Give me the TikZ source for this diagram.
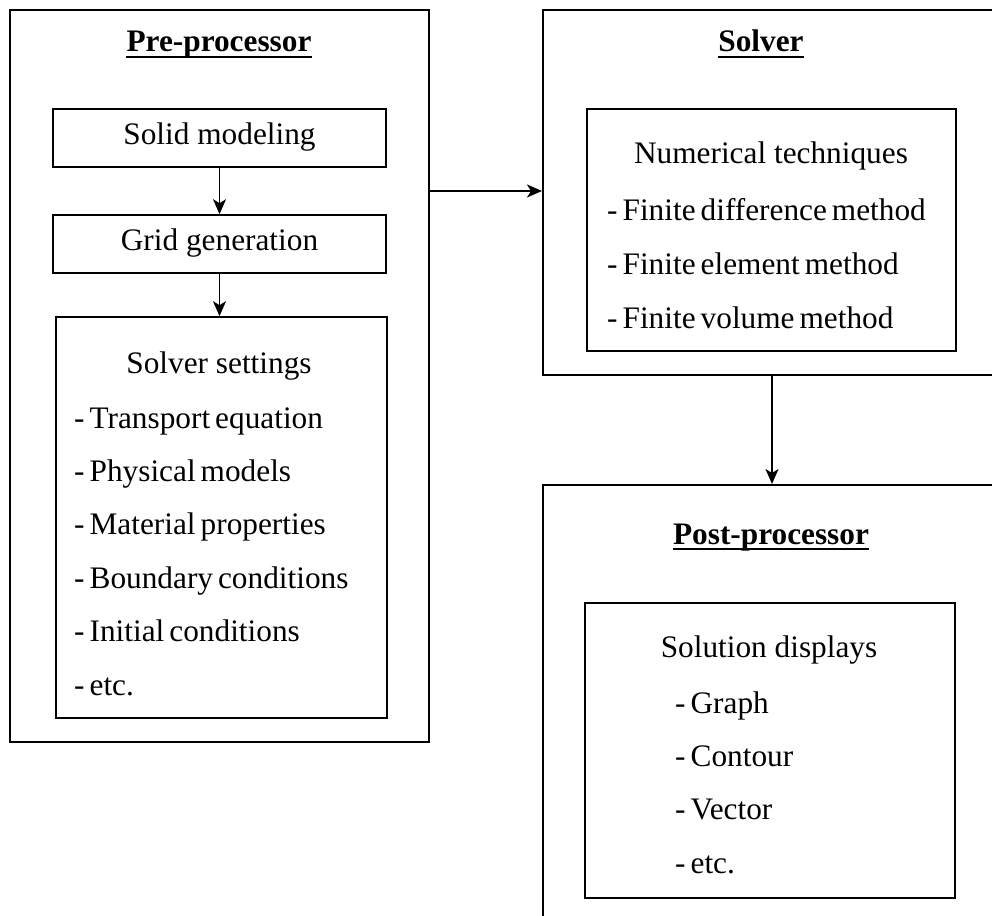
\documentclass[tikz,border=0pt]{standalone}
\usepackage{fontspec}
\setmainfont{Liberation Serif}
\usetikzlibrary{arrows.meta}
\begin{document}
\begin{tikzpicture}[x=1pt,y=-1pt,
  outer/.style={draw, line width=2pt, rectangle, inner sep=0pt},
  inner/.style={draw, line width=1.6pt, rectangle, inner sep=0pt},
  boxtxt/.style={inner, font=\fontsize{31.3}{36}\selectfont, text height=21pt, text depth=8pt},
  ttl/.style={inner sep=0pt, font=\fontsize{31.3}{36}\selectfont\bfseries, anchor=base},
  ulin/.style={line width=2pt},
  item/.style={inner sep=0pt, anchor=base west, font=\fontsize{31.3}{36}\selectfont, execute at begin node={\spaceskip=0.16em\relax}},
  head/.style={inner sep=0pt, anchor=base, font=\fontsize{31.3}{36}\selectfont},
  arr/.style={-{Stealth[length=15pt,width=13pt,inset=4pt]}, line width=1.8pt}]
\useasboundingbox (0,0) rectangle (992,915);
\clip (0,0) rectangle (992,915);

% outer boxes
\node[outer, minimum width=419pt, minimum height=732pt] (pre) at (219.5,376) {};
\node[outer, minimum width=462pt, minimum height=365pt] (solver) at (774,192.5) {};
\node[outer, minimum width=462pt, minimum height=450pt] (post) at (774,710) {};

% titles
\node[ttl] (ptitle) at (219,52) {Pre-processor};
\draw[ulin] ([yshift=-5pt]ptitle.base west) -- ([yshift=-5pt]ptitle.base east);
\node[ttl] (stitle) at (761,52) {Solver};
\draw[ulin] ([yshift=-5pt]stitle.base west) -- ([yshift=-5pt]stitle.base east);
\node[ttl] (otitle) at (771,544) {Post-processor};
\draw[ulin] ([yshift=-5pt]otitle.base west) -- ([yshift=-5pt]otitle.base east);

% pre-processor contents
\node[boxtxt, minimum width=333pt, minimum height=58pt] (solid) at (219.5,138) {Solid modeling};
\node[boxtxt, minimum width=333pt, minimum height=58pt] (grid) at (219.5,244) {Grid generation};
\node[inner, minimum width=331pt, minimum height=401pt] (settings) at (221.5,517.5) {};
\node[head] (sset) at (219,373) {Solver settings};
\node[item] (s1) at (74,428) {- Transport equation};
\node[item] (s2) at (74,481.4) {- Physical models};
\node[item] (s3) at (74,534.8) {- Material properties};
\node[item] (s4) at (74,588.2) {- Boundary conditions};
\node[item] (s5) at (74,641.6) {- Initial conditions};
\node[item] (s6) at (74,695) {- etc.};

% solver contents
\node[inner, minimum width=369pt, minimum height=242pt] (numbox) at (771.5,230) {};
\node[head] (ntech) at (771,163) {Numerical techniques};
\node[item] (n1) at (607,220) {- Finite difference method};
\node[item] (n2) at (607,274) {- Finite element method};
\node[item] (n3) at (607,328) {- Finite volume method};

% post-processor contents
\node[inner, minimum width=370pt, minimum height=295pt] (solbox) at (770,750.5) {};
\node[head] (sdisp) at (769,657) {Solution displays};
\node[item] (d1) at (675,713) {- Graph};
\node[item] (d2) at (675,766) {- Contour};
\node[item] (d3) at (675,819.5) {- Vector};
\node[item] (d4) at (675,873) {- etc.};

% connectors
\coordinate (a1) at (0,191);
\coordinate (a2) at (772,0);
\draw[arr] (solid.south) -- (grid.north);
\draw[arr] (grid.south) -- (grid.south |- settings.north);
\draw[arr] (pre.east |- a1) -- (solver.west |- a1);
\draw[arr] (solver.south -| a2) -- (post.north -| a2);
\end{tikzpicture}
\end{document}
